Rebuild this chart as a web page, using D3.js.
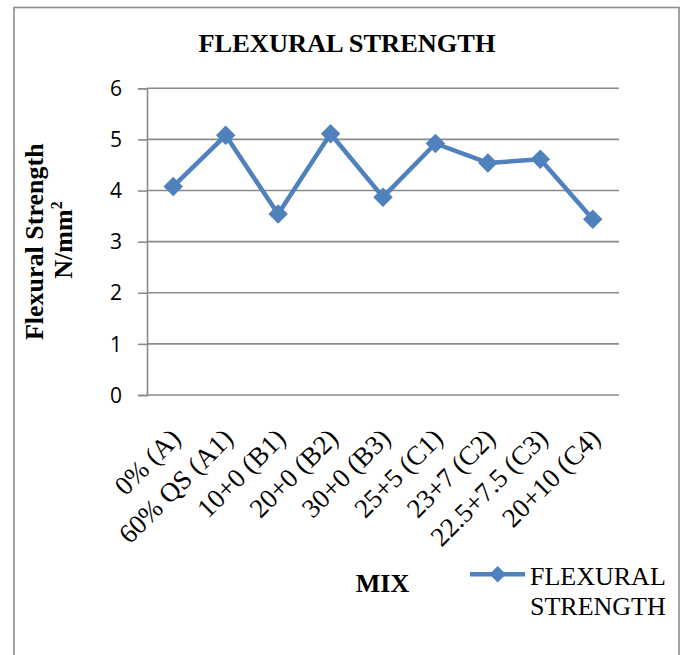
<!DOCTYPE html>
<html>
<head>
<meta charset="utf-8">
<script src="https://cdn.jsdelivr.net/npm/d3@7"></script>
<style>
  html, body { margin: 0; padding: 0; background: #fff; }
  svg { display: block; }
</style>
</head>
<body>
<svg id="chart" width="685" height="655"></svg>
<script>
// Mix designations along the category axis
const mixes = ["0% (A)", "60% QS (A1)", "10+0 (B1)", "20+0 (B2)", "30+0 (B3)",
               "25+5 (C1)", "23+7 (C2)", "22.5+7.5 (C3)", "20+10 (C4)"];
// Flexural strength for each mix, N/mm²
const flexural = [4.08, 5.08, 3.54, 5.11, 3.87, 4.92, 4.54, 4.61, 3.44];
// Value axis ticks
const yTicks = [0, 1, 2, 3, 4, 5, 6];

const seriesName = "FLEXURAL STRENGTH";
const blue = "#4f81bd";
const gridGray = "#8a8a8a";
const serif = "'Liberation Serif', 'Times New Roman', serif";

const svg = d3.select("#chart");

// Chart frame
svg.append("rect")
  .attr("x", 14).attr("y", 7.5)
  .attr("width", 665).attr("height", 660)
  .attr("fill", "#fff")
  .attr("stroke", "#8c8c8c").attr("stroke-width", 1.6);

const plot = { left: 147, right: 619, top: 88.3, bottom: 395 };

const x = d3.scaleBand().domain(mixes).range([plot.left, plot.right]);
const y = d3.scaleLinear().domain([0, 6]).range([plot.bottom, plot.top]);
const cx = d => x(d) + x.bandwidth() / 2;

// Horizontal gridlines + value axis ticks
const yAxis = d3.axisLeft(y).tickValues(yTicks).tickSize(9).tickPadding(16)
  .tickFormat(d3.format("d"));
const yg = svg.append("g").attr("transform", `translate(${plot.left},0)`).call(yAxis);
yg.select(".domain").attr("stroke", gridGray).attr("stroke-width", 1.6);
yg.selectAll(".tick line").attr("stroke", gridGray).attr("stroke-width", 1.6);
yg.selectAll(".tick text")
  .attr("font-family", "'Open Sans', 'Noto Sans', sans-serif")
  .attr("font-size", 21).attr("fill", "#000")
  .attr("x", -25).attr("dy", "0.34em");

svg.append("g").selectAll("line.grid")
  .data(yTicks)
  .join("line")
  .attr("class", "grid")
  .attr("x1", plot.left).attr("x2", plot.right)
  .attr("y1", d => y(d)).attr("y2", d => y(d))
  .attr("stroke", gridGray).attr("stroke-width", 1.6);

// Category labels, rotated
svg.append("g").selectAll("text.cat")
  .data(mixes)
  .join("text")
  .attr("class", "cat")
  .attr("transform", d => `translate(${cx(d) + 9},440) rotate(-45)`)
  .attr("text-anchor", "end")
  .attr("font-family", serif)
  .attr("font-size", 27)
  .attr("fill", "#000")
  .text(d => d);

// Series line
const line = d3.line()
  .x((d, i) => cx(mixes[i]))
  .y(d => y(d));

svg.append("path")
  .datum(flexural)
  .attr("d", line)
  .attr("fill", "none")
  .attr("stroke", blue)
  .attr("stroke-width", 4.5)
  .attr("stroke-linejoin", "round");

const diamond = d3.symbol().type(d3.symbolSquare).size(190);
svg.append("g").selectAll("path.marker")
  .data(flexural)
  .join("path")
  .attr("class", "marker")
  .attr("d", diamond)
  .attr("transform", (d, i) => `translate(${cx(mixes[i])},${y(d)}) rotate(45)`)
  .attr("fill", blue);

// Title
svg.append("text")
  .attr("x", 347).attr("y", 52.3)
  .attr("text-anchor", "middle")
  .attr("font-family", serif).attr("font-weight", "bold")
  .attr("font-size", 26)
  .attr("textLength", 297).attr("lengthAdjust", "spacingAndGlyphs")
  .text(seriesName);

// Value axis title (two lines)
svg.append("text")
  .attr("transform", "translate(42.5,241.7) rotate(-90)")
  .attr("text-anchor", "middle")
  .attr("font-family", serif).attr("font-weight", "bold")
  .attr("font-size", 26)
  .text("Flexural Strength");

const unit = svg.append("text")
  .attr("transform", "translate(71.7,240) rotate(-90)")
  .attr("text-anchor", "middle")
  .attr("font-family", serif).attr("font-weight", "bold")
  .attr("font-size", 26);
unit.append("tspan").text("N/mm");
unit.append("tspan").attr("font-size", 16).attr("dy", -10).text("2");

// Category axis title
svg.append("text")
  .attr("x", 382.5).attr("y", 591.7)
  .attr("text-anchor", "middle")
  .attr("font-family", serif).attr("font-weight", "bold")
  .attr("font-size", 26)
  .text("MIX");

// Legend
const lg = svg.append("g");
lg.append("line")
  .attr("x1", 470).attr("x2", 525)
  .attr("y1", 574.3).attr("y2", 574.3)
  .attr("stroke", blue).attr("stroke-width", 4.5);
lg.append("path")
  .attr("d", d3.symbol().type(d3.symbolSquare).size(135))
  .attr("transform", "translate(497.7,574.3) rotate(45)")
  .attr("fill", blue);
const legendText = lg.append("text")
  .attr("font-family", serif).attr("font-size", 26).attr("fill", "#000");
seriesName.split(" ").forEach((w, i) => {
  legendText.append("tspan").attr("x", 530).attr("y", 585 + i * 30).text(w);
});
</script>
</body>
</html>
